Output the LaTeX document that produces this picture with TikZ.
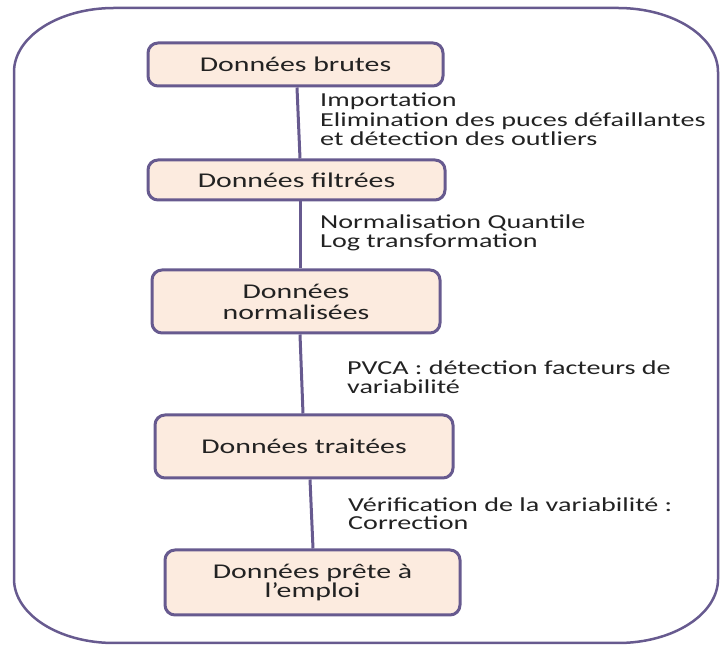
\documentclass[tikz,border=0pt]{standalone}
\usepackage{fontspec}
\setmainfont{Carlito}[FakeStretch=1.42]
\definecolor{frameC}{HTML}{675A8F}
\definecolor{boxFill}{HTML}{FCEBDF}
\definecolor{txtC}{HTML}{222222}
\tikzset{
  stage/.style={draw=frameC, fill=boxFill, line width=3pt, rounded corners=10pt,
    align=center, inner sep=0pt, text=txtC,
    font=\fontsize{21}{22}\selectfont},
  link/.style={draw=frameC, line width=3pt},
  lbl/.style={anchor=west, align=left, inner sep=0pt, text=txtC},
}
\begin{document}
\begin{tikzpicture}[x=1pt,y=1pt]
\useasboundingbox (0,0) rectangle (720,645);
% outer frame
\draw[frameC, line width=2.5pt]
  (14,573) arc[start angle=180, end angle=90, x radius=100, y radius=64]
  -- (618,637) arc[start angle=90, end angle=0, x radius=100, y radius=64]
  -- (718,66) arc[start angle=0, end angle=-90, x radius=100, y radius=64]
  -- (114,2) arc[start angle=270, end angle=180, x radius=100, y radius=64]
  -- cycle;
% stages
\node[stage, minimum width=295pt, minimum height=43pt] (brutes) at (295.5,580.5) {Données brutes};
\node[stage, minimum width=297pt, minimum height=40pt] (filtrees) at (296.5,465) {Données filtrées};
\node[stage, minimum width=288pt, minimum height=63pt] (norm) at (296,343.5) {Données\\[-1pt]normalisées};
\node[stage, minimum width=298pt, minimum height=63pt] (trait) at (304,198.5) {Données traitées};
\node[stage, minimum width=295pt, minimum height=65pt] (prete) at (312.5,62.5) {Données prête à\\[-3pt]l’emploi};
% links
\draw[link] ([xshift=1.5pt]brutes.south) -- ([xshift=3.5pt]filtrees.north);
\draw[link] ([xshift=3.5pt]filtrees.south) -- ([xshift=4pt]norm.north);
\draw[link] ([xshift=4pt]norm.south) -- ([xshift=-1pt]trait.north);
\draw[link] ([xshift=6pt]trait.south) -- ([xshift=0.5pt]prete.north);
% labels
\node[lbl, font=\fontsize{19.8}{19.5}\selectfont] (l1) at (320,525.3)
  {Importation\\Elimination des puces défaillantes\\et détection des outliers};
\node[lbl, font=\fontsize{19.8}{19}\selectfont] (l2) at (320,412.5)
  {Normalisation Quantile\\Log transformation};
\node[lbl, font=\fontsize{19.8}{18.5}\selectfont] (l3) at (347,268)
  {PVCA : détection facteurs de\\variabilité};
\node[lbl, font=\fontsize{19.8}{18.5}\selectfont] (l4) at (348,131.5)
  {Vérification de la variabilité :\\Correction};
\end{tikzpicture}
\end{document}
